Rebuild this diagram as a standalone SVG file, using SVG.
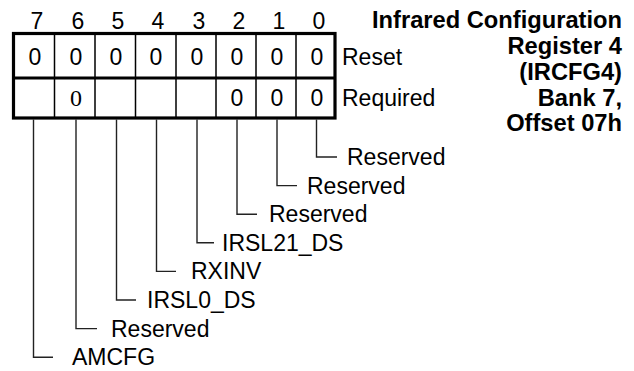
<svg xmlns="http://www.w3.org/2000/svg" width="634" height="371" viewBox="0 0 634 371">
<style>
text{font-family:"Liberation Sans",Arial,sans-serif;fill:#000}
.t{font-size:23.7px;font-weight:bold;text-anchor:end}
.b{font-size:23px;text-anchor:middle}
.c{font-size:23px;text-anchor:middle}
.s{font-family:"Liberation Serif","Times New Roman",serif;font-size:24px}
.l{font-size:23px}
.cell{stroke:#000;stroke-width:1.5;fill:none}
.thick{stroke:#000;stroke-width:3.2;fill:none}
.con path{stroke:#222;stroke-width:1.4;fill:none}
</style>
<g id="title">
<text class="t" x="622" y="28">Infrared Configuration</text>
<text class="t" x="622" y="54">Register 4</text>
<text class="t" x="622" y="80">(IRCFG4)</text>
<text class="t" x="622" y="106">Bank 7,</text>
<text class="t" x="622" y="131">Offset 07h</text>
</g>
<g id="bitnumbers">
<text class="b" x="37" y="29">7</text>
<text class="b" x="78" y="29">6</text>
<text class="b" x="118" y="29">5</text>
<text class="b" x="158" y="29">4</text>
<text class="b" x="199" y="29">3</text>
<text class="b" x="239" y="29">2</text>
<text class="b" x="279" y="29">1</text>
<text class="b" x="319" y="29">0</text>
</g>
<g id="register">
<path class="cell" d="M54.5 33.5V118M95 33.5V118M135.5 33.5V118M176 33.5V118M216 33.5V118M256 33.5V118M296 33.5V118"/>
<rect class="thick" x="13.5" y="33.5" width="321.5" height="84.5"/>
<path class="thick" d="M13.5 78H335"/>
</g>
<g id="reset">
<text class="c" x="35" y="64.5">0</text>
<text class="c" x="76" y="64.5">0</text>
<text class="c" x="116" y="64.5">0</text>
<text class="c" x="156" y="64.5">0</text>
<text class="c" x="197" y="64.5">0</text>
<text class="c" x="237" y="64.5">0</text>
<text class="c" x="277" y="64.5">0</text>
<text class="c" x="317" y="64.5">0</text>
<text class="l" x="342" y="65">Reset</text>
</g>
<g id="required">
<text class="c s" x="76" y="106">0</text>
<text class="c" x="237" y="105.5">0</text>
<text class="c" x="277" y="105.5">0</text>
<text class="c" x="317" y="105.5">0</text>
<text class="l" x="342" y="106">Required</text>
</g>
<g id="connectors" class="con">
<path d="M316.5 119.5V157H337"/>
<path d="M277 119.5V185.6H297"/>
<path d="M237 119.5V214.2H257"/>
<path d="M197 119.5V242.8H214"/>
<path d="M156.5 119.5V271.4H176"/>
<path d="M116.5 119.5V300H136"/>
<path d="M76 119.5V328.6H97"/>
<path d="M33.5 119.5V357.2H53"/>
</g>
<g id="labels">
<text class="l" x="347" y="165">Reserved</text>
<text class="l" x="307" y="193.6">Reserved</text>
<text class="l" x="269" y="222.2">Reserved</text>
<text class="l" x="222" y="250.8">IRSL21_DS</text>
<text class="l" x="191" y="279.4">RXINV</text>
<text class="l" x="147" y="308">IRSL0_DS</text>
<text class="l" x="111" y="336.6">Reserved</text>
<text class="l" x="72" y="365.2">AMCFG</text>
</g>
</svg>
